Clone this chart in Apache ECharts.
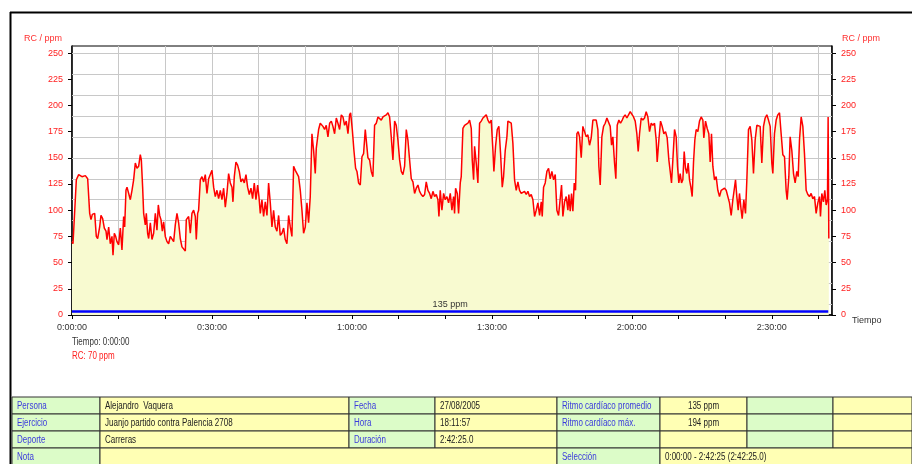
<!DOCTYPE html>
<html>
<head>
<meta charset="utf-8">
<title>RC / ppm</title>
<script src="https://cdn.jsdelivr.net/npm/echarts@6/dist/echarts.min.js"></script>
<style>
  html, body { margin: 0; padding: 0; background: #fff; }
  #grafico { width: 912px; height: 464px; }
</style>
</head>
<body>
<div id="grafico"></div>
<script>
// ritmo cardiaco: [minuto, ppm]
var tramo1 = [
  [0, 70], [0.21, 68], [0.93, 129], [1.43, 134], [2.14, 132], [2.86, 133], [3.36, 130], [3.79, 97],
  [4.07, 91], [4.36, 96], [4.64, 97], [4.86, 97], [5.21, 75], [5.5, 73], [5.93, 84], [6.21, 95],
  [6.57, 92], [6.93, 83], [7.29, 80], [7.5, 72], [7.86, 84], [8.21, 68], [8.57, 75], [8.79, 57],
  [9.07, 78], [9.36, 75], [9.64, 70], [10, 67], [10.36, 83], [10.71, 62], [11.07, 94], [11.29, 84],
  [11.57, 119], [11.79, 122], [12.14, 121], [12.5, 110], [12.86, 119], [13.21, 129], [13.57, 145], [13.93, 140],
  [14.29, 142], [14.64, 153], [14.86, 148], [15.14, 122], [15.36, 97], [15.71, 86], [15.93, 97], [16.21, 78],
  [16.43, 73], [16.79, 88], [17.14, 72], [17.5, 78], [17.86, 97], [18.21, 81], [18.5, 105], [18.79, 95],
  [19.07, 91], [19.36, 80], [19.64, 89], [20, 75], [20.36, 70], [20.71, 68], [21.07, 75], [21.43, 75],
  [21.79, 70], [22.14, 86], [22.5, 97], [22.86, 88], [23.21, 73], [23.57, 65], [23.93, 64], [24.29, 61],
  [24.5, 91], [25, 94], [25.36, 78], [25.71, 97], [26.07, 100], [26.43, 94], [26.64, 72], [26.93, 97],
  [27.14, 100], [27.5, 129], [27.86, 132], [28.21, 127], [28.57, 134], [28.93, 116], [29.29, 130], [29.64, 134],
  [30, 138], [30.36, 122], [30.71, 113], [31.07, 119], [31.43, 111], [31.79, 119], [32.14, 110], [32.5, 121],
  [32.86, 103], [33.21, 116], [33.57, 135], [33.93, 126], [34.29, 122], [34.5, 108], [34.79, 132], [35.14, 146],
  [35.5, 143], [35.86, 137], [36.21, 127], [36.57, 130], [36.93, 126], [37.29, 134], [37.64, 122], [38, 115],
  [38.36, 121], [38.71, 111], [39.07, 126], [39.43, 110], [39.79, 124], [40.07, 113], [40.36, 97], [40.71, 110],
  [41.07, 94], [41.43, 108], [41.79, 95], [42.14, 126], [42.5, 107], [42.86, 84], [43.21, 100], [43.57, 84],
  [43.93, 80], [44.29, 95], [44.64, 76], [45, 78], [45.36, 83], [45.71, 72], [46.07, 68], [46.43, 95],
  [46.79, 84], [47.14, 75], [47.5, 142], [47.86, 138], [48.21, 137], [48.57, 132], [48.93, 119], [49.29, 100],
  [49.64, 78], [50, 84], [50.36, 107], [50.71, 88], [51.07, 113], [51.43, 173], [51.79, 157], [52.14, 135],
  [52.36, 159], [52.86, 177], [53.21, 183]
];
var tramo2 = [
  [53.79, 180], [54.15, 177], [54.5, 181], [54.86, 170], [55.22, 183], [55.58, 185], [55.93, 180], [56.29, 173],
  [56.65, 188], [57.0, 183], [57.36, 177], [57.72, 191], [58.08, 189], [58.43, 181], [58.79, 185], [59.15, 173],
  [59.5, 191], [59.72, 193], [60.08, 177], [60.43, 157], [60.79, 140], [61.08, 137], [61.43, 126], [61.79, 124],
  [62.15, 151], [62.5, 154], [62.86, 177], [63.08, 178], [63.43, 150], [63.79, 148], [64.15, 137], [64.5, 132],
  [64.86, 181], [65.22, 183], [65.58, 189], [65.93, 188], [66.29, 186], [66.65, 189], [67.0, 188], [67.36, 191],
  [67.72, 193], [68.08, 189], [68.43, 170], [68.79, 148], [69.15, 185], [69.5, 181], [69.86, 167], [70.22, 148],
  [70.58, 137], [70.93, 134], [71.29, 142], [71.65, 177], [72.0, 167], [72.36, 148], [72.72, 130], [73.08, 127],
  [73.43, 116], [73.79, 121], [74.15, 124], [74.5, 118], [74.86, 115], [75.22, 113], [75.58, 115], [75.93, 127],
  [76.29, 119], [76.65, 116], [77.0, 111], [77.36, 118], [77.72, 113], [78.08, 115], [78.43, 110], [78.65, 94],
  [78.93, 119], [79.29, 100], [79.65, 116], [80.0, 110], [80.36, 113], [80.72, 107], [81.08, 116], [81.43, 100],
  [81.79, 113], [82.0, 97], [82.22, 121], [82.58, 116], [82.86, 97], [83.22, 126], [83.43, 132], [83.79, 178],
  [84.15, 181], [84.5, 180], [84.86, 183], [85.22, 186], [85.58, 178], [85.79, 148], [86.08, 129], [86.29, 161],
  [86.65, 145], [87.0, 126], [87.36, 183], [87.72, 185], [88.08, 188], [88.43, 189], [88.79, 191], [89.15, 186],
  [89.5, 183], [89.86, 186], [90.22, 157], [90.43, 137], [90.79, 161], [91.15, 177], [91.5, 180], [91.86, 154],
  [92.22, 122], [92.5, 132], [92.86, 157], [93.22, 170], [93.43, 185], [93.79, 186], [94.15, 183], [94.5, 164],
  [94.86, 129], [95.22, 119], [95.58, 127], [95.93, 119], [96.29, 116], [96.65, 115], [97.0, 118], [97.36, 115],
  [97.72, 118], [98.08, 113], [98.43, 115], [98.79, 110], [99.15, 94], [99.5, 100], [99.86, 107], [100.22, 95],
  [100.58, 108], [100.79, 94], [101.08, 122], [101.43, 126], [101.79, 137], [102.15, 140], [102.5, 130], [102.86, 137],
  [103.22, 129], [103.58, 134], [103.93, 100], [104.29, 95]
];
var tramo3 = [
  [104.65, 95], [104.93, 124], [105.22, 94], [105.57, 108], [105.93, 113], [106.29, 100], [106.5, 115], [106.79, 99],
  [107.07, 116], [107.36, 99], [107.65, 126], [107.93, 119], [108.22, 173], [108.5, 175], [108.79, 170], [109.15, 150],
  [109.5, 180], [109.86, 181], [110.22, 170], [110.57, 172], [110.93, 162], [111.29, 169], [111.65, 186], [112.0, 185],
  [112.36, 186], [112.72, 177], [112.93, 142], [113.22, 124], [113.57, 170], [113.93, 180], [114.29, 183], [114.65, 188],
  [115.0, 189], [115.36, 180], [115.65, 162], [115.93, 170], [116.29, 145], [116.57, 130], [116.86, 181], [117.22, 186],
  [117.57, 183], [117.93, 186], [118.22, 189], [118.57, 191], [118.93, 188], [119.29, 191], [119.65, 194], [120.0, 193],
  [120.36, 189], [120.72, 185], [121.07, 173], [121.36, 156], [121.65, 173], [122.0, 188], [122.36, 186], [122.72, 188],
  [123.07, 194], [123.43, 189], [123.79, 175], [124.15, 183], [124.5, 181], [124.86, 183], [125.22, 167], [125.43, 146],
  [125.79, 167], [126.15, 185], [126.5, 180], [126.86, 173], [127.22, 175], [127.57, 169], [127.93, 148], [128.22, 137],
  [128.5, 126], [128.79, 148], [129.15, 177], [129.5, 170], [129.79, 142], [130.07, 126], [130.36, 135], [130.65, 126],
  [130.93, 129], [131.22, 156], [131.5, 140], [131.79, 135], [132.07, 145], [132.36, 129], [132.65, 122], [132.93, 113],
  [133.22, 146], [133.5, 167], [133.79, 177], [134.15, 175], [134.5, 185], [134.86, 189], [135.22, 186], [135.43, 169],
  [135.79, 185], [136.15, 178], [136.5, 173], [136.79, 146], [137.07, 173], [137.36, 142], [137.72, 129], [138.07, 132],
  [138.43, 119], [138.79, 113], [139.15, 119], [139.5, 118], [139.86, 121], [140.22, 119], [140.57, 120], [140.93, 107],
  [141.29, 95], [141.65, 110], [142.0, 111], [142.22, 129], [142.5, 113], [142.79, 100], [143.07, 116], [143.43, 100],
  [143.65, 92], [144.0, 110], [144.36, 97], [144.65, 129], [145.0, 177], [145.36, 180], [145.72, 167], [146.07, 135],
  [146.43, 167], [146.79, 181], [147.15, 180], [147.5, 180], [147.86, 145], [148.22, 180], [148.57, 188], [148.93, 191],
  [149.29, 186], [149.65, 180], [150.0, 145], [150.22, 135], [150.57, 173], [150.93, 186], [151.29, 191], [151.65, 193],
  [152.0, 173], [152.36, 153], [152.72, 151], [153.07, 119], [153.29, 110], [153.65, 132], [153.93, 170], [154.29, 157],
  [154.65, 135], [155.0, 126], [155.36, 137], [155.65, 132], [155.93, 167], [156.29, 189], [156.65, 180], [157.0, 154],
  [157.36, 119], [157.72, 115], [158.07, 113], [158.43, 116], [158.79, 111], [159.15, 113], [159.5, 97], [159.86, 107],
  [160.22, 113], [160.43, 94], [160.72, 116], [161.07, 108], [161.36, 119], [161.65, 105], [161.93, 110], [162.07, 189],
  [162.22, 73]
];

// ejes
var ticksRC = [0, 25, 50, 75, 100, 125, 150, 175, 200, 225, 250];
var rejillaRC = [10, 30, 50, 70, 90, 110, 130, 150, 170, 190, 210, 230, 250];
var etiquetasTiempo = [0, 30, 60, 90, 120, 150];
var maxRC = 256.7;
var maxTiempo = 162.9;

// seleccion y promedio
var rcPromedio = 135;
var seleccion = [0, 162.1];
var nivelBarra = 4;

// tabla
var filas = [
  [['Persona', 'g'], ['Alejandro  Vaquera', 'y'], ['Fecha', 'g'], ['27/08/2005', 'y'], ['Ritmo cardíaco promedio', 'g'], ['135 ppm', 'yc'], ['', 'g'], ['', 'y']],
  [['Ejercicio', 'g'], ['Juanjo partido contra Palencia 2708', 'y'], ['Hora', 'g'], ['18:11:57', 'y'], ['Ritmo cardíaco máx.', 'g'], ['194 ppm', 'yc'], ['', 'g'], ['', 'y']],
  [['Deporte', 'g'], ['Carreras', 'y'], ['Duración', 'g'], ['2:42:25.0', 'y'], ['', 'g'], ['', 'y'], ['', 'g'], ['', 'y']]
];
var filaNota = [['Nota', 'g', 0, 1], ['', 'y', 1, 4], ['Selección', 'g', 4, 5], ['0:00:00 - 2:42:25 (2:42:25.0)', 'y', 5, 8]];

var fuente = "'Liberation Sans', Arial, sans-serif";
var estrecho = 0.8; // el original usa una letra estrecha
var colX = [12, 100, 349, 435, 557, 660, 747, 833, 912];
var filaY = [397, 414, 431, 448, 466];
var verde = '#dcfcc8', amarillo = '#ffffb4', azul = '#3a3adc';

function dos(n) { return (n < 10 ? '0' : '') + n; }
function hms(min) {
    var s = Math.round(min * 60);
    return Math.floor(s / 3600) + ':' + dos(Math.floor(s % 3600 / 60)) + ':' + dos(s % 60);
}

var puntos = tramo1.concat(tramo2, tramo3);

var graficos = [];
function texto(t, x, y, color, alinear) {
    graficos.push({ type: 'text', x: x, y: y, scaleX: estrecho, z: 10,
        style: { text: t, fill: color, fontSize: 10, fontFamily: fuente, align: alinear || 'left', verticalAlign: 'middle' } });
}
// marco
graficos.push({ type: 'line', shape: { x1: 10, y1: 12.5, x2: 912, y2: 12.5 }, style: { stroke: '#000', lineWidth: 2 } });
graficos.push({ type: 'line', shape: { x1: 10.5, y1: 12, x2: 10.5, y2: 464 }, style: { stroke: '#000', lineWidth: 2 } });
// cursor
texto('Tiempo: ' + hms(puntos[0][0]), 72, 342, '#333');
texto('RC: ' + puntos[0][1] + ' ppm', 72, 356, '#ff2020');

function celda(t, tipo, c0, c1, f) {
    var x0 = colX[c0], x1 = colX[c1], y0 = filaY[f], y1 = filaY[f + 1];
    graficos.push({ type: 'rect', shape: { x: x0, y: y0, width: x1 - x0, height: y1 - y0 },
        style: { fill: tipo === 'g' ? verde : amarillo, stroke: '#333', lineWidth: 1 } });
    if (t) {
        var centro = tipo === 'yc';
        texto(t, centro ? (x0 + x1) / 2 : x0 + 5, (y0 + y1) / 2 + 0.5, tipo === 'g' ? azul : '#222', centro ? 'center' : 'left');
    }
}
filas.forEach(function (fila, f) {
    fila.forEach(function (c, i) { celda(c[0], c[1], i, i + 1, f); });
});
filaNota.forEach(function (c) { celda(c[0], c[1], c[2], c[3], 3); });

var grafico = echarts.init(document.getElementById('grafico'));

var ejeY = function (pos) {
    return {
        type: 'value', position: pos, min: 0, max: maxRC, interval: 25,
        name: 'RC / ppm', nameLocation: 'end', nameGap: 3,
        nameTextStyle: { color: '#ff3030', fontSize: 9, align: pos === 'left' ? 'right' : 'left',
            padding: pos === 'left' ? [0, 10, 0, 0] : [0, 0, 0, 10] },
        axisLine: { show: true, lineStyle: { color: '#000', width: 1.5 } },
        axisTick: { show: true, length: 4, lineStyle: { color: '#000' } },
        axisLabel: { color: '#ff2020', fontSize: 9, margin: 9, showMaxLabel: false,
            formatter: function (v) { return ticksRC.indexOf(v) >= 0 ? String(v) : ''; } },
        splitLine: { show: false }
    };
};

var option = {
    animation: false,
    textStyle: { fontFamily: fuente },
    grid: { left: 72, right: 80, top: 46, bottom: 149, show: true, borderColor: '#000', borderWidth: 1, backgroundColor: 'transparent' },
    xAxis: {
        type: 'value', min: 0, max: maxTiempo, interval: 10,
        name: 'Tiempo', nameLocation: 'end', nameGap: 18,
        nameTextStyle: { color: '#333', fontSize: 9, verticalAlign: 'top', padding: [1, 0, 0, 0] },
        axisLine: { show: true, lineStyle: { color: '#000', width: 1.5 } },
        axisTick: { show: true, length: 4, lineStyle: { color: '#000' } },
        axisLabel: { color: '#333', fontSize: 9, margin: 8, showMaxLabel: false,
            formatter: function (v) { return etiquetasTiempo.indexOf(v) >= 0 ? hms(v) : ''; } },
        splitLine: { show: true, lineStyle: { color: '#c8c8c8', width: 1 } }
    },
    yAxis: [ejeY('left'), ejeY('right')],
    series: [{
        type: 'line', data: [], z: 1, silent: true,
        markLine: {
            silent: true, z: 1, symbol: ['none', 'none'], label: { show: false },
            lineStyle: { color: '#c8c8c8', width: 1, type: 'solid' },
            data: rejillaRC.map(function (v) { return { yAxis: v }; })
        }
    }, {
        type: 'line', data: puntos, z: 3, showSymbol: false, symbol: 'none',
        lineStyle: { color: '#ff0000', width: 1.5 },
        areaStyle: { color: '#f8fad0', opacity: 1 },
        markLine: {
            silent: true, symbol: ['none', 'none'],
            lineStyle: { color: '#0000ff', width: 2.5, type: 'solid' },
            label: { show: true, position: 'middle', formatter: rcPromedio + ' ppm', color: '#333', fontSize: 9, distance: 2 },
            data: [[{ coord: [seleccion[0], nivelBarra] }, { coord: [seleccion[1], nivelBarra] }]]
        }
    }],
    graphic: graficos
};

grafico.setOption(option);
</script>
</body>
</html>
